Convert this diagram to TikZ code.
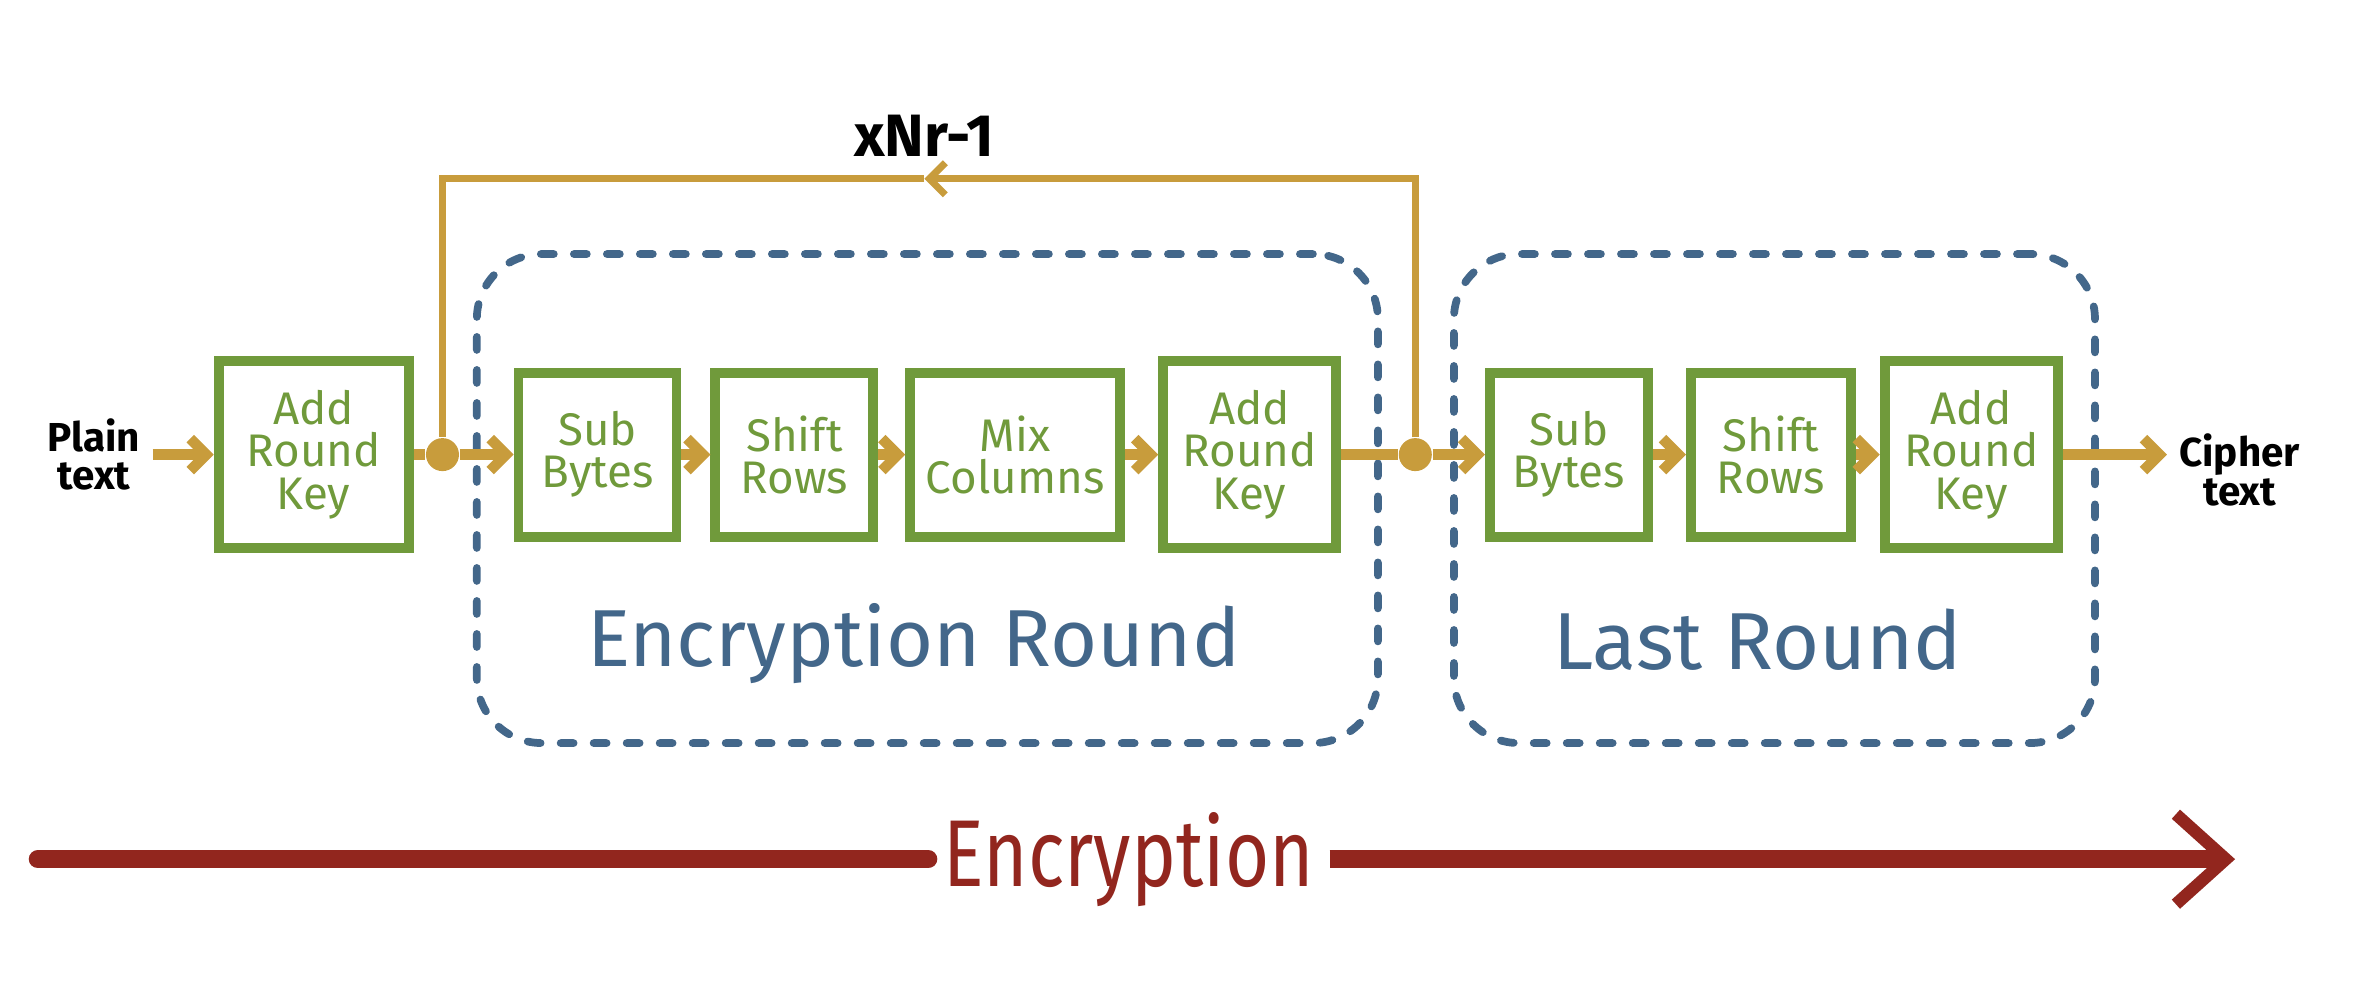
\documentclass[tikz,border=0pt]{standalone}
\usepackage{fontspec}
\setmainfont{Fira Sans}
\usepackage{graphicx}
\usetikzlibrary{shapes, arrows.meta, positioning}

\definecolor{boxgreen}{RGB}{112,154,59}
\definecolor{flowgold}{RGB}{200,156,60}
\definecolor{roundblue}{RGB}{67,103,138}
\definecolor{encred}{RGB}{146,38,30}

\begin{document}
\begin{tikzpicture}[
        x=0.01515cm,
        y=-0.01515cm,
        node distance=0.32cm,
        stepbox/.style={
            rectangle,
            draw=boxgreen,
            line width=2.8pt,
            text=boxgreen,
            align=center,
            font=\fontsize{13}{12}\selectfont,
            minimum width=1.58cm,
            minimum height=1.64cm,
            inner sep=0pt
        },
        keybox/.style={
            stepbox,
            minimum width=1.73cm,
            minimum height=1.87cm
        },
        joint/.style={
            circle,
            fill=flowgold,
            minimum size=0.33cm,
            inner sep=0pt
        },
        roundbox/.style={
            rectangle,
            draw=roundblue,
            line width=2.2pt,
            line cap=round,
            dash pattern=on 1.3mm off 2mm,
            rounded corners=0.65cm,
            minimum height=4.89cm
        },
        roundlabel/.style={
            text=roundblue,
            font=\fontsize{23}{27}\selectfont
        },
        io/.style={
            align=center,
            font=\fontsize{11.5}{11}\selectfont\bfseries
        },
        line/.style={
            draw=flowgold,
            line width=3pt,
            -{Straight Barb[length=1.6mm, width=3.2mm]}
        },
        link/.style={
            draw=flowgold,
            line width=3pt
        },
        back/.style={
            draw=flowgold,
            line width=2pt
        },
        bigline/.style={
            draw=encred,
            line width=5.2pt
        }
    ]
        \useasboundingbox (0,0) rectangle (1568,660);

        % Rounds
        \node [roundbox, minimum width=9.01cm] (encround) at (612,329) {};
        \node [roundbox, minimum width=6.41cm] (lastround) at (1171,329) {};
        \node [roundlabel] (enclabel) at (603,425) {Encryption Round};
        \node [roundlabel] (lastlabel) at (1160,422) {Last Round};

        % Nodes
        \node [io] (plain) at (62,300) {Plain\\text};
        \node [keybox, minimum width=1.9cm] (ark1) at (207,300) {Add\\Round\\Key};
        \node [joint] (dot1) at (292,300) {};
        \node [stepbox, right=1.0cm of ark1] (sb1) {Sub\\Bytes};
        \node [stepbox, right=0.29cm of sb1] (sr1) {Shift\\Rows};
        \node [stepbox, right=0.27cm of sr1, minimum width=2.1cm] (mix) {Mix\\Columns};
        \node [keybox, right=0.33cm of mix] (ark2) {Add\\Round\\Key};
        \node [joint] (dot2) at (934,300) {};
        \node [stepbox, right=1.44cm of ark2] (sb2) {Sub\\Bytes};
        \node [stepbox, right=0.33cm of sb2, minimum width=1.6cm] (sr2) {Shift\\Rows};
        \node [keybox, right=0.24cm of sr2] (ark3) {Add\\Round\\Key};
        \node [io] (cipher) at (1478,310) {Cipher\\text};
        \coordinate (looptop) at (610,118);
        \node [above=0.1cm of looptop, font=\fontsize{17}{20}\selectfont\bfseries] (reps) {xNr-1};

        % Paths
        \path [line] (plain) -- (ark1);
        \path [link] (ark1) -- (dot1);
        \path [line] (dot1) -- (sb1);
        \path [line] (sb1) -- (sr1);
        \path [line] (sr1) -- (mix);
        \path [line] (mix) -- (ark2);
        \path [link] (ark2) -- (dot2);
        \path [line] (dot2) -- (sb2);
        \path [line] (sb2) -- (sr2);
        \path [line] (sr2) -- (ark3);
        \path [line] (ark3.east) -- (ark3.east -| cipher.west);
        \path [back, -{Straight Barb[length=1.6mm, width=3.2mm]}] (dot2) |- (looptop);
        \path [back] (looptop) -| (dot1);

        % Direction
        \coordinate (encstart) at (25,567);
        \coordinate (encend) at (1475,567);
        \node [text=encred, inner xsep=0.15cm, font=\fontsize{27}{30}\selectfont] (enctext) at (745,567) {\scalebox{0.8}[1]{Encryption}};
        \path [bigline, line cap=round] (encstart) -- (enctext);
        \path [bigline, -{Straight Barb[length=5mm, width=9mm, line width=3.5pt]}] (enctext) -- (encend);

    \end{tikzpicture}
\end{document}
